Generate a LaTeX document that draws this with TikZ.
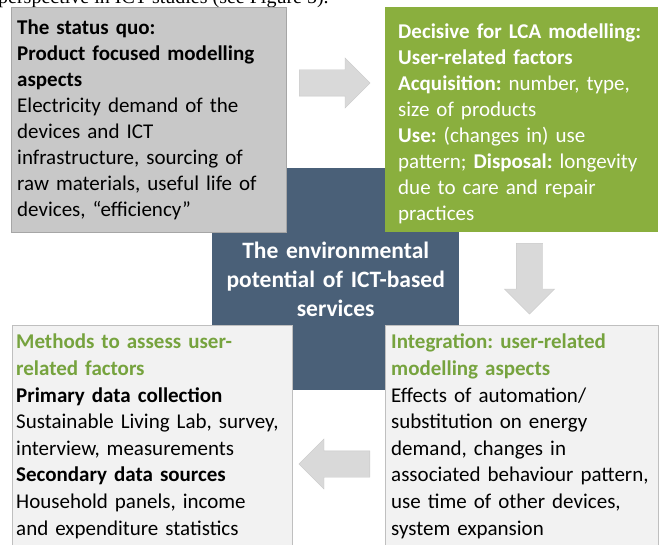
\documentclass[tikz,border=0pt]{standalone}
\usepackage{fontspec}
\setmainfont{Carlito}
\newfontfamily\paperfont{Liberation Serif}
\usetikzlibrary{shapes.arrows}
\definecolor{quogray}{RGB}{200,200,200}
\definecolor{lcagreen}{RGB}{138,175,62}
\definecolor{envblue}{RGB}{74,96,120}
\definecolor{headgreen}{RGB}{118,163,62}
\definecolor{panelgray}{RGB}{242,242,242}
\frenchspacing
\tikzset{
    box/.style = {rectangle, anchor=north west, align=left, inner ysep=0pt, font=\fontsize{21}{26}\selectfont},
    quobox/.style = {box, fill=quogray, draw=black!35, inner xsep=6pt, text width=263pt, minimum height=225pt},
    lcabox/.style = {box, fill=lcagreen, text=white, inner xsep=13pt, text width=247pt, minimum height=225pt},
    envbox/.style = {rectangle, anchor=north west, align=center, fill=envblue, text=white, inner sep=0pt,
                     text width=247pt, minimum height=222pt, font=\fontsize{23.5}{29}\selectfont\bfseries},
    panel/.style = {box, fill=panelgray, draw=black!25, inner ysep=9pt, font=\fontsize{21}{26.6}\selectfont},
    blockarrow/.style = {single arrow, draw=black!22, fill=black!15, inner sep=13pt, anchor=tail,
                         minimum height=71pt, single arrow head extend=12pt}
}
\begin{document}
\begin{tikzpicture}[x=1pt,y=-1pt]
\useasboundingbox (0,0) rectangle (668,545);
\clip (0,0) rectangle (668,545);
%
% running text of the page, cut at the top
\node[anchor=base west, inner sep=0pt, font=\paperfont\fontsize{20}{24}\selectfont] at (-2,3.5) (runtext)
    {perspective in ICT studies (see Figure 5).};
%
% centre
\node[envbox] at (212,168) (env) {The environmental\\potential of ICT-based\\services};
%
% four boxes round the centre
\node[quobox] at (11,7) (quo) {\textbf{The status quo:}\\\textbf{Product focused modelling}\\\textbf{aspects}\\
    Electricity demand of the\\devices and ICT\\infrastructure, sourcing of\\raw materials, useful life of\\devices, ``efficiency''};
\node[lcabox] at (385,7) (lca) {\rule{0pt}{23pt}\textbf{Decisive for LCA modelling:}\\\textbf{User-related factors}\\
    \textbf{Acquisition:} number, type,\\size of products\\\textbf{Use:} (changes in) use\\
    pattern; \textbf{Disposal:} longevity\\due to care and repair\\practices};
\node[panel, inner xsep=6pt, text width=261pt] at (385,325) (integr) {{\bfseries\color{headgreen}Integration: user-related}\\
    {\bfseries\color{headgreen}modelling aspects}\\Effects of automation/\\substitution on energy\\demand, changes in\\
    associated behaviour pattern,\\use time of other devices,\\system expansion};
\node[panel, inner xsep=4pt, text width=272pt] at (12,325) (methods) {{\bfseries\color{headgreen}Methods to assess user-}\\
    {\bfseries\color{headgreen}related factors}\\\textbf{Primary data collection}\\Sustainable Living Lab, survey,\\
    interview, measurements\\\textbf{Secondary data sources}\\Household panels, income\\and expenditure statistics};
%
% block arrows
\node[blockarrow] at (299,83) (quotolca) {};
\node[blockarrow, shape border rotate=270] at (529.5,243) (lcatointegr) {};
\node[blockarrow, shape border rotate=180] at (370,464) (integrtomethods) {};

\end{tikzpicture}
\end{document}
